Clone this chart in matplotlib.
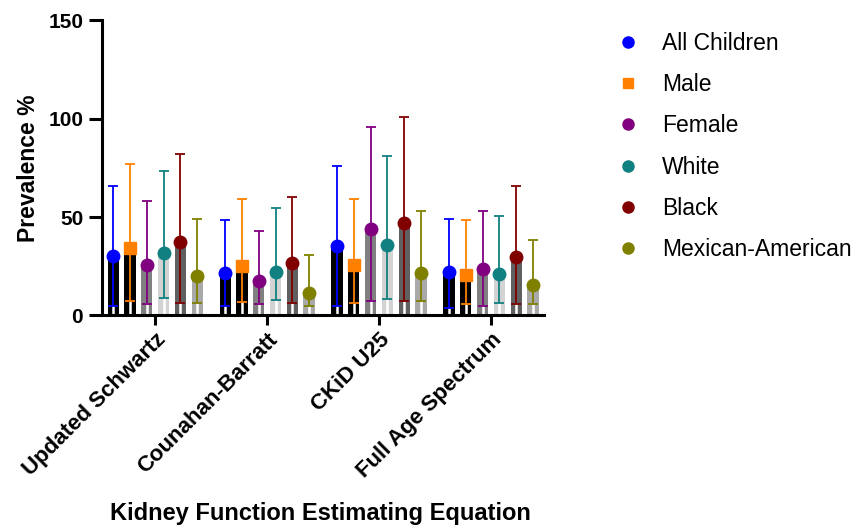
import matplotlib
matplotlib.use("Agg")
import matplotlib.pyplot as plt
from matplotlib.lines import Line2D
import numpy as np

plt.rcParams['font.family'] = ['Liberation Sans', 'DejaVu Sans']

equations = ["Updated Schwartz", "Counahan-Barratt", "CKiD U25", "Full Age Spectrum"]
groups = ["All Children", "Male", "Female", "White", "Black", "Mexican-American"]

# prevalence (%) per group, one value per equation
all_children = [30.0, 21.6, 35.4, 22.0]
male = [34.3, 25.1, 25.6, 20.6]
female = [25.6, 17.5, 44.0, 23.6]
white = [31.6, 21.9, 35.8, 21.0]
black = [37.5, 26.5, 46.8, 29.5]
mexican = [20.0, 11.6, 21.7, 15.3]

# lower / upper confidence limits
all_lo = [5.0, 5.0, 5.0, 4.0]
all_hi = [65.7, 48.6, 76.0, 49.0]
male_lo = [7.4, 7.0, 6.2, 6.0]
male_hi = [76.9, 59.0, 59.3, 48.5]
female_lo = [5.8, 5.8, 7.4, 5.0]
female_hi = [58.3, 43.0, 95.8, 53.2]
white_lo = [8.7, 8.0, 8.5, 6.5]
white_hi = [73.4, 54.6, 81.0, 50.7]
black_lo = [6.5, 6.2, 7.4, 6.0]
black_hi = [82.0, 60.0, 101.0, 66.0]
mex_lo = [6.5, 5.0, 7.4, 5.7]
mex_hi = [49.0, 30.7, 53.2, 38.5]

values = [all_children, male, female, white, black, mexican]
lows = [all_lo, male_lo, female_lo, white_lo, black_lo, mex_lo]
highs = [all_hi, male_hi, female_hi, white_hi, black_hi, mex_hi]

marker_colors = ["#0000ff", "#ff8000", "#800080", "#108080", "#800000", "#808000"]
bar_colors = ["#000000", "#000000", "#808080", "#d3d3d3", "#606060", "#a9a9a9"]
markers = ["o", "s", "o", "o", "o", "o"]

fig = plt.figure(figsize=(8.57, 5.29), dpi=100)
ax = fig.add_axes([0.119, 0.4036, 0.516, 0.5584])

x = np.arange(len(equations))
step = 0.15
width = 0.1
for i in range(len(groups)):
    xi = x + (i - 2.5) * step
    v = np.array(values[i])
    lo = np.array(lows[i])
    hi = np.array(highs[i])
    ax.bar(xi, v, width=width, color=bar_colors[i], zorder=1)
    # white stripe below lower limit
    ax.vlines(xi, 0, lo, colors="white", linewidth=1.8, zorder=2)
    ax.errorbar(xi, v, yerr=[v - lo, hi - v], fmt="none", ecolor=marker_colors[i],
                elinewidth=1.3, capsize=3.5, capthick=1.3, zorder=3)
    ms = 9 if markers[i] == "o" else 8.5
    ax.plot(xi, v, linestyle="none", marker=markers[i], color=marker_colors[i],
            markersize=ms, zorder=4)

ax.set_xlim(-0.475, 3.475)
ax.set_ylim(0, 150)
ax.set_yticks([0, 50, 100, 150])
ax.set_xticks(x)
ax.set_xticklabels(equations, rotation=45, ha="right", rotation_mode="anchor",
                   fontsize=16, fontweight="bold")
for lab in ax.get_yticklabels():
    lab.set_fontsize(15)
    lab.set_fontweight("bold")

for s in ["top", "right"]:
    ax.spines[s].set_visible(False)
for s in ["left", "bottom"]:
    ax.spines[s].set_linewidth(2.2)
ax.tick_params(axis="y", width=2.2, length=9.5, pad=4)
ax.tick_params(axis="x", width=2.2, length=7, pad=3)

ax.set_ylabel("Prevalence %", fontsize=16.5, fontweight="bold", labelpad=6)
fig.text(0.374, 0.03, "Kidney Function Estimating Equation", fontsize=17,
         fontweight="bold", ha="center", va="center")

handles = [Line2D([0], [0], marker=markers[i], color=marker_colors[i], linestyle="none",
                  markersize=8 if markers[i] == "o" else 7.5) for i in range(len(groups))]
leg = fig.legend(handles, groups, loc="upper left", bbox_to_anchor=(0.695, 0.978),
                 frameon=False, fontsize=16.5, labelspacing=0.79, handletextpad=1.0,
                 handlelength=1.0)

fig.savefig("out.png", dpi=100)
